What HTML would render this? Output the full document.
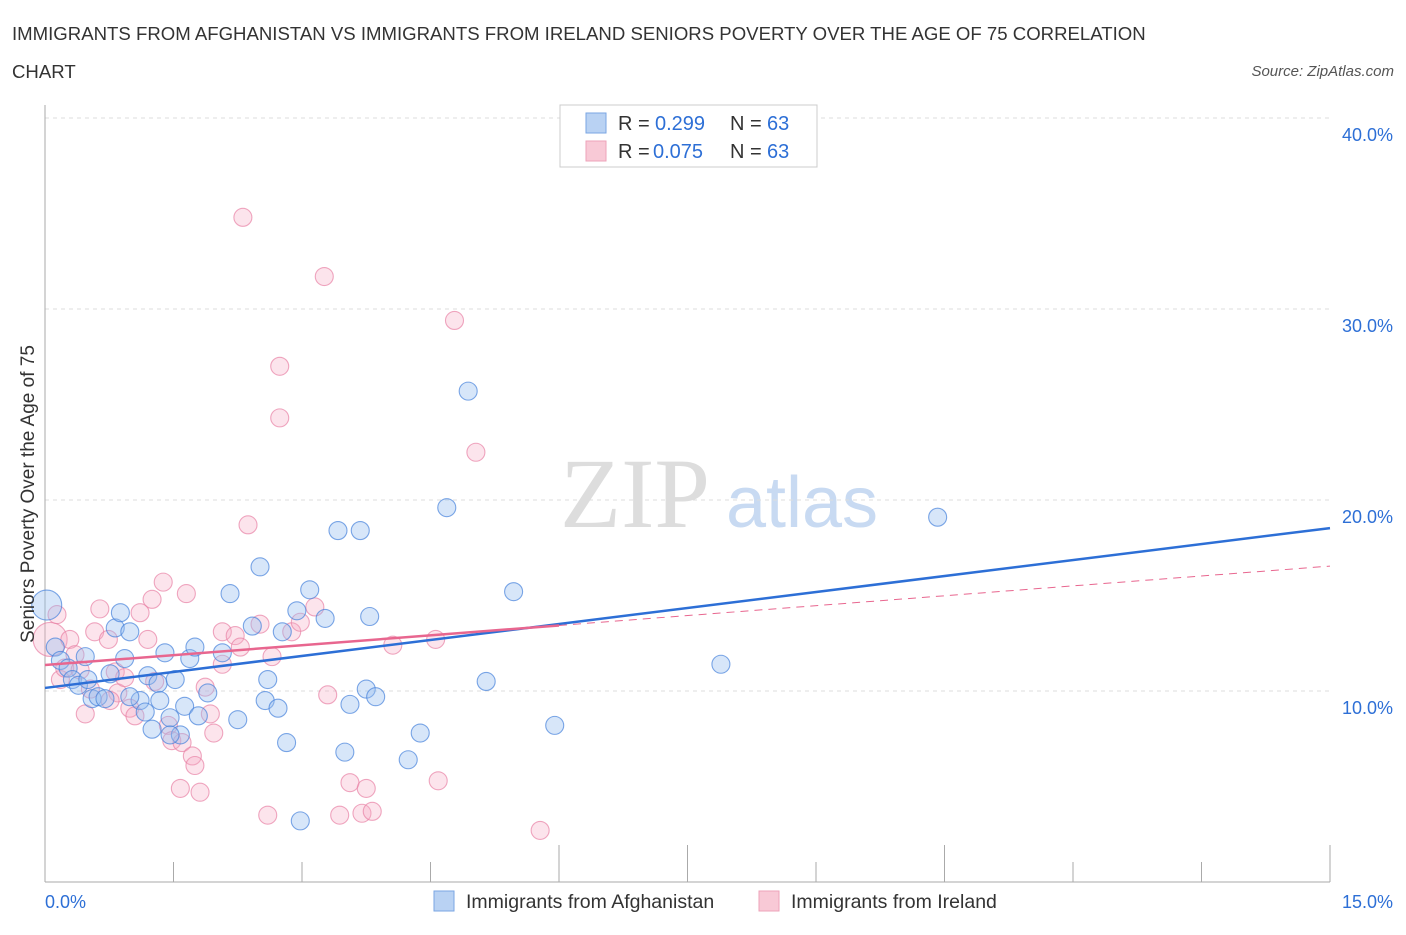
<!DOCTYPE html>
<html><head><meta charset="utf-8"><style>
body{margin:0;background:#fff;font-family:"Liberation Sans",sans-serif;}
</style></head><body>
<svg id="chart" width="1406" height="930" viewBox="0 0 1406 930" xmlns="http://www.w3.org/2000/svg" font-family="Liberation Sans, sans-serif">
<text x="12" y="40" font-size="18.6" fill="#333">IMMIGRANTS FROM AFGHANISTAN VS IMMIGRANTS FROM IRELAND SENIORS POVERTY OVER THE AGE OF 75 CORRELATION</text>
<text x="12" y="78" font-size="18.6" fill="#333">CHART</text>
<text x="1394" y="76" font-size="15" fill="#555" font-style="italic" text-anchor="end">Source: ZipAtlas.com</text>
<g>
<text x="635" y="527" font-size="100" fill="#ddd" style="font-family:'Liberation Serif',serif" text-anchor="middle">ZIP</text>
<text x="802" y="527" font-size="72" fill="#c8daf2" text-anchor="middle">atlas</text>
</g>
<g id="grid"></g><g id="axes"></g><g id="marks"></g><g id="lines"></g>
<g>
<rect x="560" y="105" width="257" height="62" fill="#fff" stroke="#ccc"/>
<rect x="586" y="113" width="20" height="20" fill="#b9d2f3" stroke="#7aa6e3"/>
<text x="618" y="130" font-size="20" fill="#333">R =</text>
<text x="655" y="130" font-size="20" fill="#2d6fd6">0.299</text>
<text x="730" y="130" font-size="20" fill="#333">N =</text>
<text x="767" y="130" font-size="20" fill="#2d6fd6">63</text>
<rect x="586" y="141" width="20" height="20" fill="#f8c9d6" stroke="#eea3b9"/>
<text x="618" y="158" font-size="20" fill="#333">R =</text>
<text x="653" y="158" font-size="20" fill="#2d6fd6">0.075</text>
<text x="730" y="158" font-size="20" fill="#333">N =</text>
<text x="767" y="158" font-size="20" fill="#2d6fd6">63</text>
</g>
<g>
<rect x="434" y="891" width="20" height="20" fill="#b9d2f3" stroke="#7aa6e3"/>
<text x="466" y="908" font-size="19.5" fill="#333">Immigrants from Afghanistan</text>
<rect x="759" y="891" width="20" height="20" fill="#f8c9d6" stroke="#eea3b9"/>
<text x="791" y="908" font-size="19.5" fill="#333">Immigrants from Ireland</text>
</g>
<text x="34" y="494" font-size="19" fill="#333" text-anchor="middle" transform="rotate(-90 34 494)">Seniors Poverty Over the Age of 75</text>
<text x="45" y="908" font-size="18" fill="#2d6fd6">0.0%</text>
<text x="1393" y="908" font-size="18" fill="#2d6fd6" text-anchor="end">15.0%</text>
</svg>
<script>
const yTicks=[10,20,30,40];
const yTickLabels=["10.0%","20.0%","30.0%","40.0%"];
const afgX=[0.02,0.12,0.18,0.27,0.32,0.39,0.47,0.5,0.55,0.62,0.7,0.76,0.82,0.88,0.93,0.99,1.11,1.17,1.2,1.25,1.32,1.4,1.46,1.52,1.58,1.63,1.69,1.75,1.79,1.9,2.07,2.16,2.25,2.42,2.51,2.57,2.6,2.72,2.77,2.82,2.94,2.98,3.09,3.27,3.42,3.5,3.56,3.68,3.75,3.79,3.86,4.24,4.38,4.69,4.94,5.15,5.47,5.95,7.89,10.42,1.46,0.99,1.34];
const afgY=[14.5,12.3,11.6,11.2,10.6,10.3,11.8,10.6,9.6,9.7,9.6,10.9,13.3,14.1,11.7,13.1,9.5,8.9,10.8,8.0,10.4,12.0,8.6,10.6,7.7,9.2,11.7,12.3,8.7,9.9,12.0,15.1,8.5,13.4,16.5,9.5,10.6,9.1,13.1,7.3,14.2,3.2,15.3,13.8,18.4,6.8,9.3,18.4,10.1,13.9,9.7,6.4,7.8,19.6,25.7,10.5,15.2,8.2,11.4,19.1,7.7,9.7,9.5];
const ireX=[0.06,0.14,0.18,0.23,0.29,0.35,0.41,0.47,0.58,0.64,0.74,0.82,0.85,0.93,0.99,1.05,1.11,1.2,1.25,1.28,1.38,1.44,1.48,1.6,1.65,1.72,1.75,1.58,1.81,1.87,1.93,1.97,2.07,2.07,2.22,2.28,2.31,2.37,2.51,2.6,2.65,2.74,2.74,2.88,2.98,3.15,3.26,3.3,3.44,3.56,3.7,3.75,3.82,4.06,4.56,4.59,4.78,5.03,5.78,0.76,0.53];
const ireY=[12.7,14.0,10.6,11.2,12.7,11.9,11.1,8.8,13.1,14.3,12.7,11.0,9.9,10.7,9.1,8.7,14.1,12.7,14.8,10.5,15.7,8.2,7.4,7.3,15.1,6.6,6.1,4.9,4.7,10.2,8.8,7.8,13.1,11.4,12.9,12.3,34.8,18.7,13.5,3.5,11.8,27.0,24.3,13.1,13.6,14.4,31.7,9.8,3.5,5.2,3.6,4.9,3.7,12.4,12.7,5.3,29.4,22.5,2.7,9.5,10.1];
const afgTrend=[10.16,18.53];
const ireTrend=[11.36,16.54];
const ireSolidEnd=6.0;
const sx=v=>45+v/15*1285;
const sy=v=>882-v*19.1;
const NS="http://www.w3.org/2000/svg";
function mk(tag,attrs,parent){const e=document.createElementNS(NS,tag);for(const k in attrs)e.setAttribute(k,attrs[k]);document.getElementById(parent).appendChild(e);return e;}
yTicks.forEach((t,i)=>{
 const g=mk('line',{x1:45,x2:1330,y1:sy(t),y2:sy(t),stroke:'#ddd','stroke-dasharray':'4,4'},'grid');
 
 
 const tx=mk('text',{x:1393,y:sy(t)+23,'font-size':18,fill:'#2d6fd6','text-anchor':'end'},'grid');
 tx.textContent=yTickLabels[i];
 
 
});
const ax=mk('line',{x1:45,x2:45,y1:105,y2:882,stroke:'#aaa'},'axes');


const bx=mk('line',{x1:45,x2:1330,y1:882,y2:882,stroke:'#aaa'},'axes');


const tallTicks=[5,6,8,11];
for(let i=0;i<=10;i++){
 const tk=mk('line',{x1:sx(i*1.5),x2:sx(i*1.5),y1:tallTicks.includes(i+1)?845:862,y2:882,stroke:'#aaa'},'axes');
 
 
}
function dots(X,Y,fill,stroke,name,bigR){
 X.forEach((x,i)=>{
  const c=mk('circle',{cx:sx(x),cy:sy(Y[i]),r:i===0?bigR:9,fill:fill,stroke:stroke,'stroke-width':1.1},'marks');
  
  
 });
}
dots(ireX,ireY,'rgba(245,170,195,0.32)','rgba(232,130,165,0.7)','point-ireland',17);
dots(afgX,afgY,'rgba(150,190,240,0.38)','rgba(70,130,220,0.7)','point-afghanistan',15);
const bl=mk('line',{x1:sx(0),y1:sy(afgTrend[0]),x2:sx(15),y2:sy(afgTrend[1]),stroke:'#2d6fd6','stroke-width':2.5},'lines');


const pv=x=>ireTrend[0]+(ireTrend[1]-ireTrend[0])*x/15;
const pl=mk('line',{x1:sx(0),y1:sy(pv(0)),x2:sx(ireSolidEnd),y2:sy(pv(ireSolidEnd)),stroke:'#e8668f','stroke-width':2.5},'lines');


const pd=mk('line',{x1:sx(ireSolidEnd),y1:sy(pv(ireSolidEnd)),x2:sx(15),y2:sy(pv(15)),stroke:'#e8668f','stroke-width':1,'stroke-dasharray':'8,6'},'lines');


</script>
</body></html>
